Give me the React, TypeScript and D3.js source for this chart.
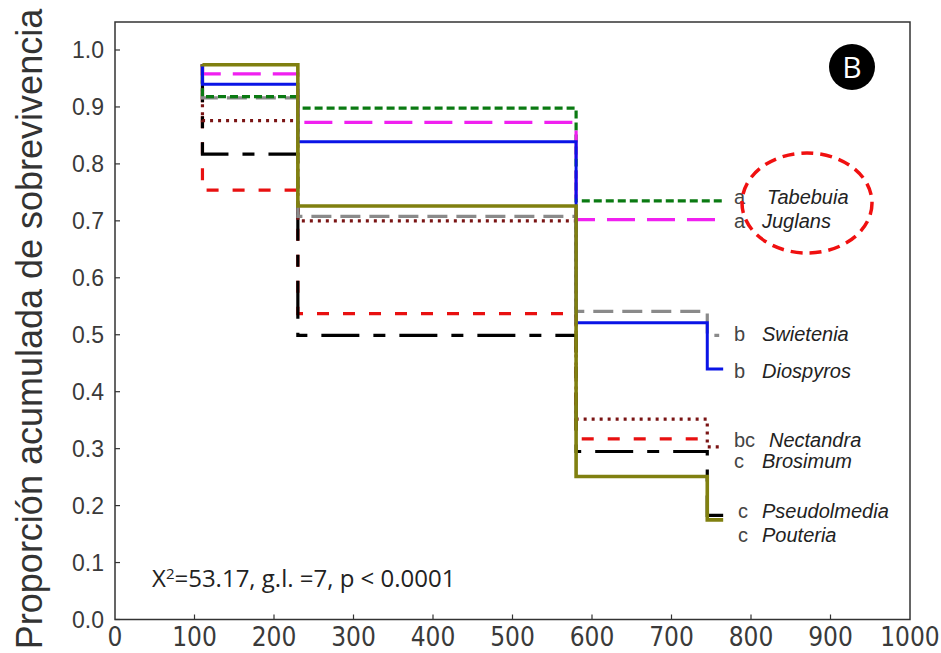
import React from "react";
import * as d3 from "d3";

// ---- data ----
const species = ["Tabebuia", "Juglans", "Swietenia", "Diospyros", "Nectandra", "Brosimum", "Pseudolmedia", "Pouteria"];
const groups = ["a", "a", "b", "b", "bc", "c", "c", "c"];
const stepTimes = [110, 230, 580, 745];
const startValue = 0.975;
const tabebuia = [0.918, 0.898, 0.735];
const juglans = [0.958, 0.873, 0.702];
const swietenia = [0.916, 0.708, 0.541, 0.499];
const diospyros = [0.94, 0.839, 0.521, 0.44];
const nectandra = [0.876, 0.7, 0.352, 0.303];
const brosimum = [0.754, 0.537, 0.317];
const pseudolmedia = [0.817, 0.499, 0.295, 0.183];
const pouteria = [0.974, 0.726, 0.251, 0.175];
const endTimes = [765, 765, 760, 765, 765, 745, 765, 765];
const labelValues = [0.74, 0.698, 0.5, 0.435, 0.314, 0.277, 0.189, 0.146];
const xTicks = [0, 100, 200, 300, 400, 500, 600, 700, 800, 900, 1000];
const yTicks = [0, 0.1, 0.2, 0.3, 0.4, 0.5, 0.6, 0.7, 0.8, 0.9, 1.0];

const seriesValues = [tabebuia, juglans, swietenia, diospyros, nectandra, brosimum, pseudolmedia, pouteria];

const styles = [
  { color: "#0a7a12", dash: "8 4", width: 3.2 },
  { color: "#f020f0", dash: "28 12", width: 3.2 },
  { color: "#8a8a8a", dash: "20 9", width: 3.2 },
  { color: "#0a14e6", dash: null, width: 3.0 },
  { color: "#7a1414", dash: "3 5", width: 3.2 },
  { color: "#e81010", dash: "12 14", width: 3.2 },
  { color: "#000000", dash: "38 14 12 14", width: 3.2 },
  { color: "#808010", dash: null, width: 3.6 },
];
// drawing order (olive on top)
const drawOrder = [5, 6, 4, 2, 0, 1, 3, 7];

const W = 941;
const H = 653;

export default function App() {
  const x = d3.scaleLinear().domain([0, 1000]).range([115, 910]);
  const y = d3.scaleLinear().domain([0, 1]).range([619.5, 50]);
  const line = d3
    .line<[number, number]>()
    .x((d) => x(d[0]))
    .y((d) => y(d[1]))
    .curve(d3.curveStepAfter);

  const paths = seriesValues.map((vals, i) => {
    const pts: [number, number][] = [[stepTimes[0], startValue]];
    vals.forEach((v, k) => pts.push([stepTimes[k], v]));
    pts.push([endTimes[i], vals[vals.length - 1]]);
    return line(pts) as string;
  });

  const frameTop = 22;
  const sans = "'Liberation Sans', Arial, sans-serif";

  return (
    <svg
      width={W}
      height={H}
      style={{ position: "absolute", left: 0, top: 0, background: "#fff" }}
      xmlns="http://www.w3.org/2000/svg"
    >
      <rect x={0} y={0} width={W} height={H} fill="#fff" />
      {/* frame */}
      <rect
        x={x(0)}
        y={frameTop}
        width={x(1000) - x(0)}
        height={y(0) - frameTop}
        fill="none"
        stroke="#333"
        strokeWidth={1.5}
      />
      {/* y ticks */}
      {yTicks.map((t) => (
        <g key={"y" + t}>
          <line x1={x(0)} x2={x(0) + 5} y1={y(t)} y2={y(t)} stroke="#333" strokeWidth={1.2} />
          <text
            x={104}
            y={y(t) + 8}
            textAnchor="end"
            fontFamily={sans}
            fontSize={23}
            fill="#3a3a3a"
          >
            {t.toFixed(1)}
          </text>
        </g>
      ))}
      {/* x ticks */}
      {xTicks.map((t) => (
        <g key={"x" + t}>
          {t > 0 && t < 1000 && (
            <line x1={x(t)} x2={x(t)} y1={y(0)} y2={y(0) - 5} stroke="#333" strokeWidth={1.2} />
          )}
          <text
            x={x(t)}
            y={646}
            textAnchor="middle"
            fontFamily="'Liberation Sans Narrow', 'DejaVu Sans Condensed', sans-serif"
            fontSize={26}
            fill="#3a3a3a"
          >
            {t}
          </text>
        </g>
      ))}
      {/* y axis title */}
      <text
        transform={`translate(42, 329) rotate(-90)`}
        textAnchor="middle"
        fontFamily={sans}
        fontSize={36}
        fill="#333"
      >
        Proporción acumulada de sobrevivencia
      </text>

      {/* survival curves */}
      {drawOrder.map((i) => (
        <path
          key={species[i]}
          d={paths[i]}
          fill="none"
          stroke={styles[i].color}
          strokeWidth={styles[i].width}
          strokeDasharray={styles[i].dash ?? undefined}
        />
      ))}

      {/* labels */}
      {species.map((s, i) => (
        <g key={"l" + s}>
          <text
            x={i >= 6 ? 738 : 734}
            y={y(labelValues[i]) + 6}
            fontFamily={sans}
            fontSize={20}
            fill="#444"
          >
            {groups[i]}
          </text>
          <text
            x={groups[i].length > 1 ? 769 : i === 0 ? 767 : 762}
            y={y(labelValues[i]) + 6}
            fontFamily={sans}
            fontSize={20}
            fontStyle="italic"
            fill="#222"
          >
            {s}
          </text>
        </g>
      ))}

      {/* highlight ellipse */}
      <ellipse
        cx={807}
        cy={203}
        rx={65}
        ry={50}
        fill="none"
        stroke="#f01010"
        strokeWidth={3.5}
        strokeDasharray="12 7"
      />

      {/* panel badge */}
      <circle cx={852} cy={67} r={23} fill="#000" />
      <text
        x={852}
        y={78}
        textAnchor="middle"
        fontFamily="'Open Sans', sans-serif"
        fontSize={30}
        fill="#fff"
      >
        B
      </text>

      {/* statistics */}
      <text x={152} y={587} fontFamily="'Open Sans', sans-serif" fontSize={24} fill="#222">
        X<tspan dy={-8} fontSize={15}>2</tspan>
        <tspan dy={8}>=53.17, g.l. =7, p &lt; 0.0001</tspan>
      </text>
    </svg>
  );
}
